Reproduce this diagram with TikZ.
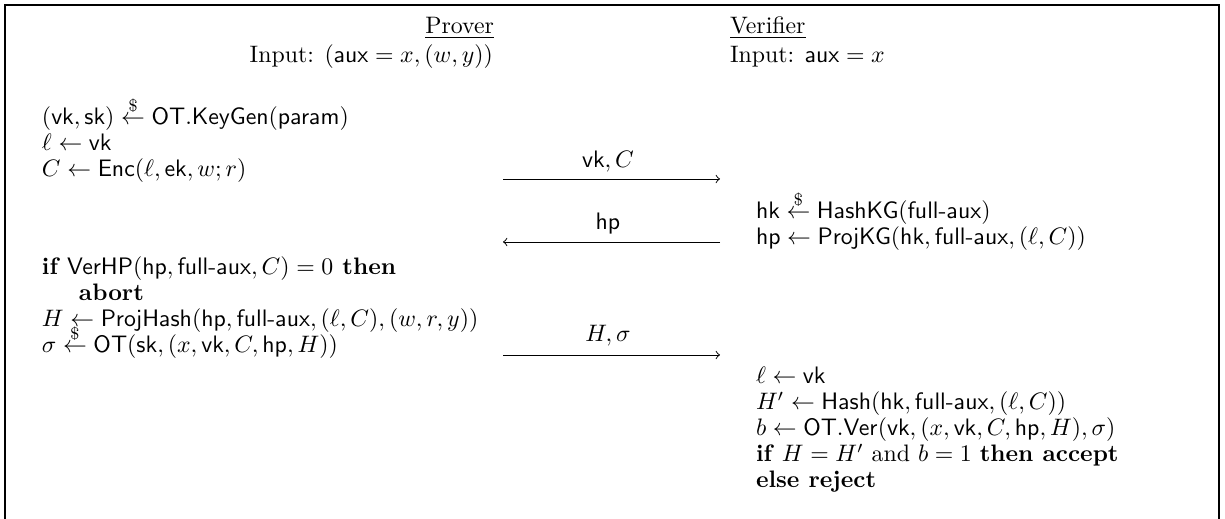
\documentclass[tikz,border=0pt]{standalone}
\usepackage{amsmath}
\newcommand{\smp}{\overset{\$}{\leftarrow}}
\begin{document}
\begin{tikzpicture}[x=0.42pt,y=-0.42pt,
  txt/.style={inner sep=0pt,outer sep=0pt,anchor=base west},
  hdr/.style={inner sep=0pt,outer sep=0pt},
  msg/.style={->,line width=0.4pt},
  lbl/.style={inner sep=0pt,anchor=base}]
\useasboundingbox (0,0) rectangle (1225,519);
% frame
\draw[line width=0.8pt] (5,519) -- (5,5) -- (1219,5) -- (1219,519);
% headers
\node[hdr,anchor=base east] (ph) at (494,34) {\underline{Prover}};
\node[hdr,anchor=base east] (pi) at (493,63) {Input: $(\mathsf{aux}=x,(w,y))$};
\node[hdr,anchor=base west] (vh) at (730,34) {\underline{Verifier}};
\node[hdr,anchor=base west] (vi) at (730,63) {Input: $\mathsf{aux}=x$};
% prover lines
\node[txt] (p1) at (42,125) {$(\mathsf{vk},\mathsf{sk})\smp\mathsf{OT.KeyGen}(\mathsf{param})$};
\node[txt] (p2) at (42,151) {$\ell\leftarrow\mathsf{vk}$};
\node[txt] (p3) at (42,177) {$C\leftarrow\mathsf{Enc}(\ell,\mathsf{ek},w;r)$};
\node[txt] (p4) at (42,275) {$\textbf{if }\mathsf{VerHP}(\mathsf{hp},\mathsf{full\text{-}aux},C)=0\textbf{ then}$};
\node[txt] (p5) at (79,301) {\textbf{abort}};
\node[txt] (p6) at (42,327) {$H\leftarrow\mathsf{ProjHash}(\mathsf{hp},\mathsf{full\text{-}aux},(\ell,C),(w,r,y))$};
\node[txt] (p7) at (42,353) {$\sigma\smp\mathsf{OT}(\mathsf{sk},(x,\mathsf{vk},C,\mathsf{hp},H))$};
% verifier lines
\node[txt] (v1) at (756,219) {$\mathsf{hk}\smp\mathsf{HashKG}(\mathsf{full\text{-}aux})$};
\node[txt] (v2) at (756,245) {$\mathsf{hp}\leftarrow\mathsf{ProjKG}(\mathsf{hk},\mathsf{full\text{-}aux},(\ell,C))$};
\node[txt] (v3) at (756,384) {$\ell\leftarrow\mathsf{vk}$};
\node[txt] (v4) at (756,410) {$H'\leftarrow\mathsf{Hash}(\mathsf{hk},\mathsf{full\text{-}aux},(\ell,C))$};
\node[txt] (v5) at (756,436) {$b\leftarrow\mathsf{OT.Ver}(\mathsf{vk},(x,\mathsf{vk},C,\mathsf{hp},H),\sigma)$};
\node[txt] (v6) at (756,462) {\textbf{if} $H=H'$ and $b=1$ \textbf{then accept}};
\node[txt] (v7) at (756,488) {\textbf{else reject}};
% messages
\coordinate (m1a) at (503,179); \coordinate (m1b) at (720,179);
\coordinate (m2a) at (720,242); \coordinate (m2b) at (503,242);
\coordinate (m3a) at (503,355); \coordinate (m3b) at (720,355);
\draw[msg] (m1a) -- (m1b);
\draw[msg] (m2a) -- (m2b);
\draw[msg] (m3a) -- (m3b);
\node[lbl] (l1) at (608,168) {$\mathsf{vk},C$};
\node[lbl] (l2) at (608,230) {$\mathsf{hp}$};
\node[lbl] (l3) at (608,342) {$H,\sigma$};
\end{tikzpicture}
\end{document}
